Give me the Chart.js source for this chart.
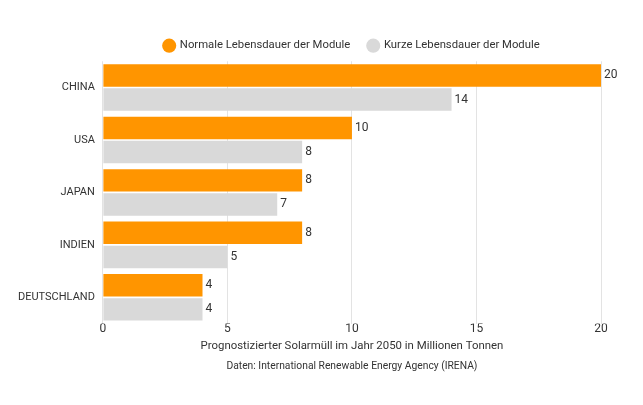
<!DOCTYPE html>
<html lang="de">
<head>
  <meta charset="UTF-8">
  <title>Solarmüll 2050</title>
  <script src="https://cdn.jsdelivr.net/npm/chart.js"></script>
  <style>
    html, body { margin: 0; padding: 0; background: #fff; }
    #wrap { width: 643px; height: 405px; }
  </style>
</head>
<body>
  <div id="wrap"><canvas id="solarChart"></canvas></div>

  <script>
    const laender = ["CHINA", "USA", "JAPAN", "INDIEN", "DEUTSCHLAND"];
    const normal = [20, 10, 8, 8, 4];
    const kurz = [14, 8, 7, 5, 4];
    const xTicks = [0, 5, 10, 15, 20];

    const schrift = "Roboto, 'Noto Sans', sans-serif";

    // Werte rechts neben die Balken schreiben
    const wertLabels = {
      id: "wertLabels",
      afterDatasetsDraw(chart) {
        const ctx = chart.ctx;
        ctx.save();
        ctx.font = "12px " + schrift;
        ctx.fillStyle = "#333";
        ctx.textBaseline = "middle";
        chart.data.datasets.forEach((ds, i) => {
          chart.getDatasetMeta(i).data.forEach((bar, j) => {
            ctx.fillText(ds.data[j], bar.x + 3, bar.y);
          });
        });
        ctx.restore();
      }
    };

    new Chart(document.getElementById("solarChart"), {
      type: "bar",
      data: {
        labels: laender,
        datasets: [{
          label: "Normale Lebensdauer der Module",
          data: normal,
          backgroundColor: "#FF9500",
          categoryPercentage: 0.92,
          barPercentage: 0.93
        }, {
          label: "Kurze Lebensdauer der Module",
          data: kurz,
          backgroundColor: "#D9D9D9",
          categoryPercentage: 0.92,
          barPercentage: 0.93
        }]
      },
      options: {
        indexAxis: "y",
        responsive: true,
        maintainAspectRatio: false,
        animation: false,
        layout: { padding: { left: 18, right: 42, top: 22, bottom: 32 } },
        plugins: {
          legend: {
            position: "top",
            fullSize: false,
            labels: {
              usePointStyle: true,
              pointStyle: "circle",
              boxWidth: 10,
              boxHeight: 10,
              padding: 18,
              color: "#333",
              font: { family: schrift, size: 11.3 }
            }
          },
          title: {
            display: true,
            position: "bottom",
            fullSize: false,
            text: "Daten: International Renewable Energy Agency (IRENA)",
            color: "#333",
            font: { family: schrift, size: 10.3, weight: "normal" },
            padding: { top: 8, bottom: 0 }
          },
          tooltip: { enabled: false }
        },
        scales: {
          x: {
            min: 0,
            max: 20,
            afterBuildTicks: axis => { axis.ticks = xTicks.map(v => ({ value: v })); },
            grid: { color: "#E3E3E3", drawTicks: false },
            border: { display: false },
            ticks: { color: "#333", padding: -2, font: { family: schrift, size: 12 } },
            title: {
              display: true,
              text: "Prognostizierter Solarmüll im Jahr 2050 in Millionen Tonnen",
              color: "#333",
              font: { family: schrift, size: 11.4 },
              padding: { top: 5, bottom: 0 }
            }
          },
          y: {
            grid: { display: false },
            border: { display: false },
            ticks: { color: "#333", padding: 0, font: { family: schrift, size: 11 } }
          }
        }
      },
      plugins: [wertLabels]
    });
  </script>
</body>
</html>
